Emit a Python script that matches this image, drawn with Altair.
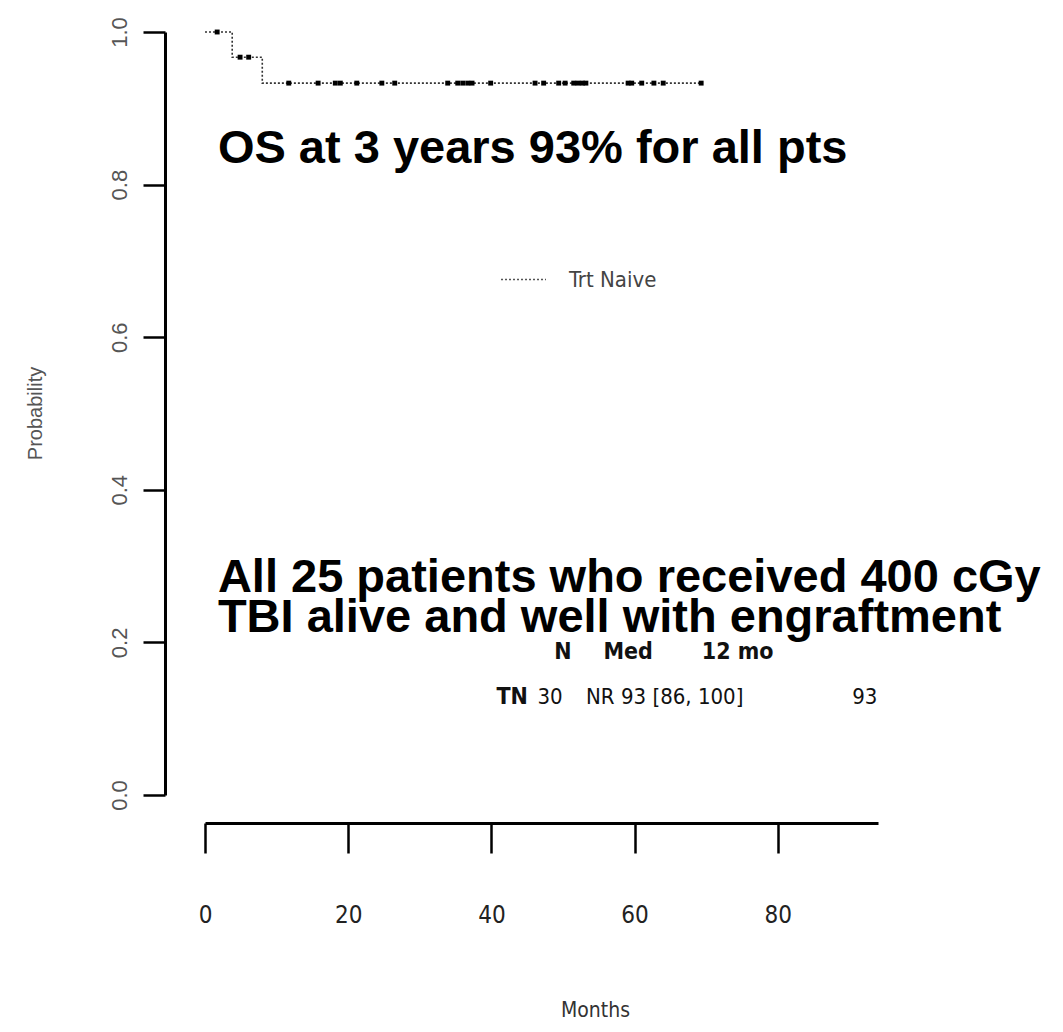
import altair as alt
import pandas as pd

# ---- data ----
step_months = [0.0, 3.8, 8.0, 69.3]
step_surv = [1.0, 0.967, 0.933, 0.933]

censor_months = [1.7, 4.9, 6.1, 11.7, 15.8, 18.2, 18.9, 21.2, 24.7, 26.5,
                 33.9, 35.3, 36.0, 36.7, 37.3, 39.9, 46.1, 47.3, 49.4, 50.3,
                 51.5, 52.1, 52.7, 53.2, 59.1, 59.6, 61.0, 62.7, 64.0, 69.3]
censor_surv = [1.0, 0.967, 0.967] + [0.933] * 27

group_name = "Trt Naive"

x_ticks = [0, 20, 40, 60, 80]
y_ticks = [0.0, 0.2, 0.4, 0.6, 0.8, 1.0]

big_text = ["OS at 3 years 93% for all pts",
            "All 25 patients who received 400 cGy",
            "TBI alive and well with engraftment"]
big_x = [1.8, 1.8, 1.8]
big_y = [0.828, 0.266, 0.2136]

head_text = ["N", "Med", "12 mo"]
head_x = [50.0, 59.1, 74.4]
head_y = [0.187, 0.187, 0.187]

row_label = ["TN"]
row_label_x = [42.9]
row_text = ["30", "NR"]
row_x = [48.2, 55.2]
row_y = [0.129, 0.129]

ci_text = ["93 [86, 100]"]
ci_x = [58.1]

cut_text = ["93"]
cut_x = [90.4]

# ---- tables ----
line_df = pd.DataFrame({"month": step_months, "surv": step_surv, "group": group_name})
cens_df = pd.DataFrame({"month": censor_months, "surv": censor_surv})
big_df = pd.DataFrame({"t": big_text, "month": big_x, "surv": big_y})
head_df = pd.DataFrame({"t": head_text, "month": head_x, "surv": head_y})
lab_df = pd.DataFrame({"t": row_label, "month": row_label_x, "surv": row_y[:1]})
row_df = pd.DataFrame({"t": row_text, "month": row_x, "surv": row_y})
ci_df = pd.DataFrame({"t": ci_text, "month": ci_x, "surv": row_y[:1]})
cut_df = pd.DataFrame({"t": cut_text, "month": cut_x, "surv": row_y[:1]})

NARROW = "DejaVu Sans Condensed, Liberation Sans Narrow, Arial Narrow, Liberation Sans, sans-serif"
SANS = "Liberation Sans, Arial, sans-serif"

xscale = alt.Scale(domain=[0, 94], nice=False, zero=False)
yscale = alt.Scale(domain=[0, 1], nice=False)

x_axis = alt.Axis(values=x_ticks, offset=28, tickSize=30, tickWidth=2.5,
                  tickColor="black", domainColor="black", domainWidth=3,
                  grid=False, labelFont=NARROW, labelFontSize=24,
                  labelColor="#222", labelPadding=50, labelFlush=False,
                  title="Months", titleFont=NARROW, titleFontSize=21,
                  titleFontWeight="normal", titleColor="#333",
                  titleX=390, titleY=187, titleBaseline="middle",
                  titleAlign="center")
y_axis = alt.Axis(values=y_ticks, format=".1f", offset=40, tickSize=22,
                  tickWidth=2.5, tickColor="black", domainColor="black",
                  domainWidth=3, grid=False, labelAngle=270,
                  labelFont=SANS, labelFontSize=22, labelColor="#555",
                  labelPadding=12, labelFlush=False,
                  title="Probability", titleFont=SANS, titleFontSize=20,
                  titleFontWeight="normal", titleColor="#555",
                  titleX=-130, titleY=381, titleAngle=270,
                  titleBaseline="middle", titleAlign="center")

curve = alt.Chart(line_df).mark_line(interpolate="step-after", strokeWidth=1.6,
                                     color="#333").encode(
    x=alt.X("month:Q", scale=xscale, axis=x_axis),
    y=alt.Y("surv:Q", scale=yscale, axis=y_axis),
    strokeDash=alt.StrokeDash(
        "group:N",
        scale=alt.Scale(domain=[group_name], range=[[2, 2]]),
        legend=alt.Legend(title=None, orient="none", legendX=295, legendY=224,
                          symbolType="stroke", symbolSize=2025,
                          symbolStrokeWidth=1.6, symbolStrokeColor="#555",
                          labelFont=NARROW, labelFontSize=22,
                          labelColor="#444", labelOffset=22),
    ),
)

marks = alt.Chart(cens_df).mark_square(size=24, color="black", opacity=1).encode(
    x=alt.X("month:Q", scale=xscale),
    y=alt.Y("surv:Q", scale=yscale),
)

enc = dict(x=alt.X("month:Q", scale=xscale), y=alt.Y("surv:Q", scale=yscale), text="t:N")

big = alt.Chart(big_df).mark_text(align="left", baseline="alphabetic",
                                  font=SANS, fontSize=47, fontWeight="bold",
                                  color="black").encode(**enc)

bold_style = dict(baseline="middle", font=NARROW, fontSize=23, fontWeight="bold",
                  color="#111")
row_style = dict(baseline="middle", font=NARROW, fontSize=22, color="#111")

head = alt.Chart(head_df).mark_text(align="center", **bold_style).encode(**enc)
lab = alt.Chart(lab_df).mark_text(align="center", **bold_style).encode(**enc)
row = alt.Chart(row_df).mark_text(align="center", **row_style).encode(**enc)
ci = alt.Chart(ci_df).mark_text(align="left", **row_style).encode(**enc)
cut = alt.Chart(cut_df).mark_text(align="left", clip=True, **row_style).encode(**enc)

chart = alt.layer(curve, marks, big, head, lab, row, ci, cut).properties(
    width=673, height=763,
    background="white",
    autosize=alt.AutoSizeParams(type="none"),
    padding={"left": 205, "top": 32, "right": 185, "bottom": 237},
).configure_view(stroke=None)

chart.save("out.html", embed_options={"renderer": "svg", "actions": False})
